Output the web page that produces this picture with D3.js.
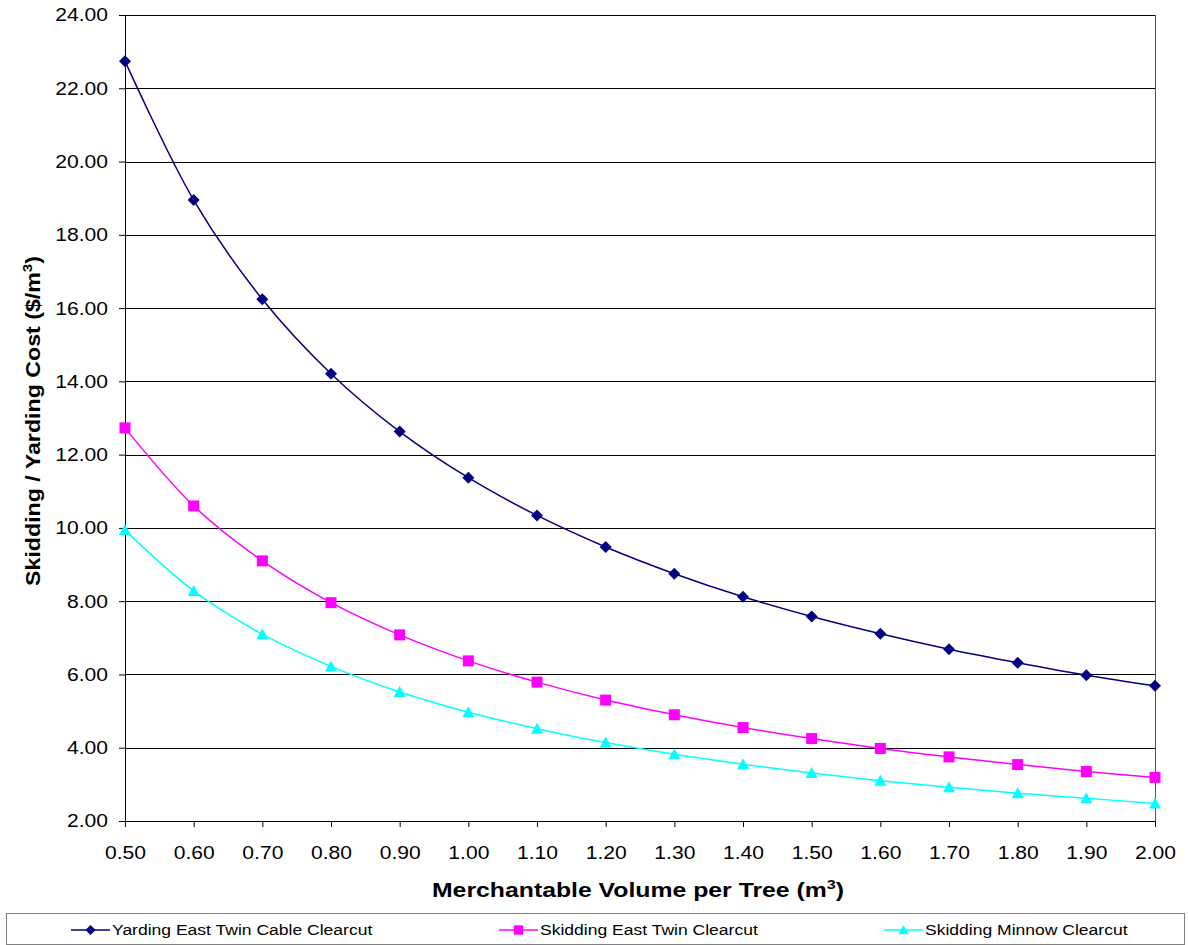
<!DOCTYPE html>
<html>
<head>
<meta charset="utf-8">
<script src="https://cdn.jsdelivr.net/npm/d3@7"></script>
<style>
	body { margin: 0; background: #fff; }
	svg { font-family: Arial, "Liberation Sans", sans-serif; }
</style>
</head>
<body>
<script>
var volumes = [0.5, 0.6, 0.7, 0.8, 0.9, 1.0, 1.1, 1.2, 1.3, 1.4, 1.5, 1.6, 1.7, 1.8, 1.9, 2.0];

var yardingEastTwin = [22.74, 18.95, 16.24, 14.21, 12.63, 11.37, 10.34, 9.48, 8.75, 8.12, 7.58, 7.11, 6.69, 6.32, 5.98, 5.69];
var skiddingEastTwin = [12.73, 10.60, 9.10, 7.96, 7.08, 6.37, 5.79, 5.30, 4.90, 4.55, 4.25, 3.98, 3.75, 3.54, 3.35, 3.19];
var skiddingMinnow = [9.94, 8.28, 7.10, 6.22, 5.52, 4.97, 4.52, 4.14, 3.82, 3.55, 3.31, 3.10, 2.92, 2.76, 2.62, 2.48];

var seriesNames = ['Yarding East Twin Cable Clearcut', 'Skidding East Twin Clearcut', 'Skidding Minnow Clearcut'];
var xTicks = [0.5, 0.6, 0.7, 0.8, 0.9, 1.0, 1.1, 1.2, 1.3, 1.4, 1.5, 1.6, 1.7, 1.8, 1.9, 2.0];
var yTicks = [2, 4, 6, 8, 10, 12, 14, 16, 18, 20, 22, 24];

var margin = { top: 15, right: 33, bottom: 124, left: 125 };
var W = 1188, H = 945;
var width = W - margin.left - margin.right,
	height = H - margin.top - margin.bottom;

var x = d3.scaleLinear().domain([0.5, 2.0]).range([0, width]),
	y = d3.scaleLinear().domain([2, 24]).range([height, 0]);

var series = [
	{ name: seriesNames[0], values: yardingEastTwin, color: '#000080', shape: 'diamond' },
	{ name: seriesNames[1], values: skiddingEastTwin, color: '#FF00FF', shape: 'square' },
	{ name: seriesNames[2], values: skiddingMinnow, color: '#00FFFF', shape: 'triangle' }
];

function markerPath(shape) {
	if (shape === 'diamond') return 'M0,-6L6,0L0,6L-6,0Z';
	if (shape === 'square') return 'M-5.5,-5.5H5.5V5.5H-5.5Z';
	return 'M0,-6L6,5L-6,5Z';
}

// the original text is rendered wider than Arial, stretch it a bit
function stretch(sel, f) {
	sel.each(function() {
		var l = this.getComputedTextLength();
		d3.select(this)
			.attr('textLength', l * f)
			.attr('lengthAdjust', 'spacingAndGlyphs');
	});
}

var svg = d3.select('body').append('svg')
	.attr('width', W)
	.attr('height', H);

var g = svg.append('g')
	.attr('transform', 'translate(' + margin.left + ',' + margin.top + ')');

// gridlines
g.append('g')
	.selectAll('line')
	.data(yTicks)
	.enter().append('line')
		.attr('x1', 0)
		.attr('x2', width)
		.attr('y1', function(d) { return Math.round(y(d)) + 0.5; })
		.attr('y2', function(d) { return Math.round(y(d)) + 0.5; })
		.style('stroke', '#000')
		.style('stroke-width', 1);

// right border
g.append('line')
	.attr('x1', width + 0.5).attr('x2', width + 0.5)
	.attr('y1', 0).attr('y2', height)
	.style('stroke', '#555');

// axes
var xAxis = g.append('g')
	.attr('transform', 'translate(0,' + height + ')')
	.call(d3.axisBottom(x).tickValues(xTicks).tickSize(6).tickSizeOuter(0)
		.tickFormat(d3.format('.2f')));

var yAxis = g.append('g')
	.call(d3.axisLeft(y).tickValues(yTicks).tickSize(6).tickSizeOuter(0)
		.tickFormat(d3.format('.2f')));

[xAxis, yAxis].forEach(function(a) {
	a.select('.domain').style('stroke', '#000');
	a.selectAll('.tick line').style('stroke', '#000');
	a.selectAll('.tick text')
		.style('font-family', 'Arial, "Liberation Sans", sans-serif')
		.style('font-size', '18.5px')
		.style('fill', '#000');
	stretch(a.selectAll('.tick text'), 1.14);
});
xAxis.selectAll('.tick text').attr('dy', '0.71em').attr('y', 25);
yAxis.selectAll('.tick text').attr('x', -17);

var line = d3.line()
	.curve(d3.curveCatmullRom.alpha(0.5))
	.x(function(d, i) { return x(volumes[i]); })
	.y(function(d) { return y(d); });

series.forEach(function(s) {
	g.append('path')
		.datum(s.values)
		.attr('d', line)
		.style('fill', 'none')
		.style('stroke', s.color)
		.style('stroke-width', 1.5);

	g.append('g')
		.selectAll('path')
		.data(s.values)
		.enter().append('path')
			.attr('transform', function(d, i) {
				return 'translate(' + x(volumes[i]) + ',' + y(d) + ')';
			})
			.attr('d', markerPath(s.shape))
			.style('fill', s.color);
});

// axis titles
var xt = svg.append('text')
	.attr('transform', 'translate(' + (margin.left + width / 2 - 2) + ',897) scale(1.24,1)')
	.attr('text-anchor', 'middle')
	.style('font-size', '20px')
	.style('font-weight', 'bold')
	.text('Merchantable Volume per Tree (m');
xt.append('tspan').attr('dy', -8).style('font-size', '13px').text('3');
xt.append('tspan').attr('dy', 8).text(')');

var yt = svg.append('text')
	.attr('transform', 'translate(40,' + (margin.top + height / 2 + 3) + ') rotate(-90) scale(1.16,1)')
	.attr('text-anchor', 'middle')
	.style('font-size', '20px')
	.style('font-weight', 'bold')
	.text('Skidding / Yarding Cost ($/m');
yt.append('tspan').attr('dy', -8).style('font-size', '13px').text('3');
yt.append('tspan').attr('dy', 8).text(')');

// legend
svg.append('rect')
	.attr('x', 6.5).attr('y', 913.5)
	.attr('width', 1178).attr('height', 31)
	.style('fill', '#fff')
	.style('stroke', '#808080');

var legendX = [71, 499, 884];
var legend = svg.selectAll('.legend')
	.data(series)
	.enter().append('g')
		.attr('class', 'legend')
		.attr('transform', function(d, i) { return 'translate(' + legendX[i] + ',930)'; });

legend.append('line')
	.attr('x1', 0).attr('x2', 39)
	.style('stroke', function(d) { return d.color; })
	.style('stroke-width', 1.5);

legend.append('path')
	.attr('transform', 'translate(19.5,0) scale(0.85)')
	.attr('d', function(d) { return markerPath(d.shape); })
	.style('fill', function(d) { return d.color; });

var legendText = legend.append('text')
	.attr('x', 41)
	.attr('dy', '0.35em')
	.style('font-size', '15.5px')
	.text(function(d) { return d.name; });
stretch(legendText, 1.13);
</script>
</body>
</html>
